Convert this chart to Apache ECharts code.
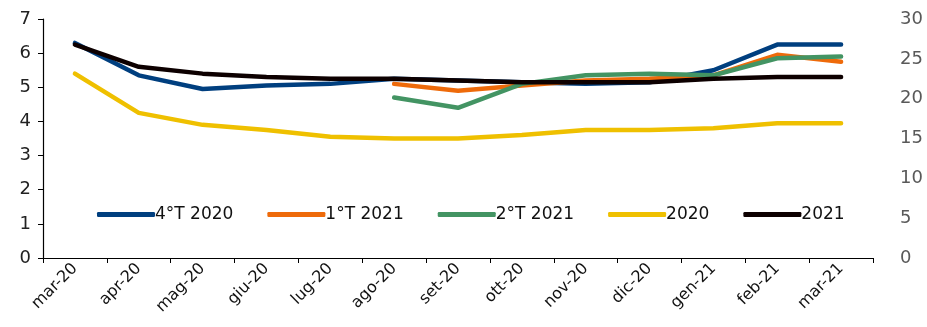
<!DOCTYPE html>
<html lang="en" style="height: 100%">
<head>
  <meta charset="utf-8">
</head>
<body style="height: 100%; margin: 0">
  <div id="container" style="width: 927px; height: 327px"></div>

  <script type="text/javascript" src="https://fastly.jsdelivr.net/npm/echarts@6/dist/echarts.min.js"></script>
  <script type="text/javascript">
    // months on the x axis
    var months = ['mar-20', 'apr-20', 'mag-20', 'giu-20', 'lug-20', 'ago-20', 'set-20',
                  'ott-20', 'nov-20', 'dic-20', 'gen-21', 'feb-21', 'mar-21'];

    // values (left axis)
    var t4_2020 = [6.3, 5.35, 4.95, 5.05, 5.1, 5.25, 5.2, 5.15, 5.1, 5.15, 5.5, 6.25, 6.25];
    var t1_2021 = [null, null, null, null, null, 5.1, 4.9, 5.05, 5.2, 5.25, 5.35, 5.95, 5.75];
    var t2_2021 = [null, null, null, null, null, 4.7, 4.4, 5.1, 5.35, 5.4, 5.35, 5.85, 5.9];
    var y2020 = [5.4, 4.25, 3.9, 3.75, 3.55, 3.5, 3.5, 3.6, 3.75, 3.75, 3.8, 3.95, 3.95];
    var y2021 = [6.25, 5.6, 5.4, 5.3, 5.25, 5.25, 5.2, 5.15, 5.15, 5.15, 5.25, 5.3, 5.3];

    var names = ['4°T 2020', '1°T 2021', '2°T 2021', '2020', '2021'];
    var colors = ['#003f7f', '#ee6a0a', '#439463', '#efc000', '#0d0000'];
    var values = [t4_2020, t1_2021, t2_2021, y2020, y2021];

    var font = '"DejaVu Sans", sans-serif';

    var myChart = echarts.init(document.getElementById('container'), null, { renderer: 'canvas' });

    var option = {
      animation: false,
      color: colors,
      grid: { left: 43, right: 54, top: 19, bottom: 69 },
      legend: {
        data: names,
        top: 201,
        left: 92,
        itemWidth: 58,
        itemHeight: 5,
        itemGap: 34,
        icon: 'roundRect',
        textStyle: { fontFamily: font, fontSize: 17, color: '#111', padding: [0, 0, 0, -5] }
      },
      xAxis: {
        type: 'category',
        data: months,
        boundaryGap: true,
        axisLine: { lineStyle: { color: '#000', width: 1.2 } },
        axisTick: { show: true, length: 5, lineStyle: { color: '#000' } },
        axisLabel: { rotate: 45, fontFamily: font, fontSize: 16, color: '#111', margin: 8 }
      },
      yAxis: [
        {
          type: 'value',
          min: 0, max: 7, interval: 1,
          splitLine: { show: false },
          axisLine: { show: true, lineStyle: { color: '#000', width: 1.2 } },
          axisTick: { show: true, length: 5, lineStyle: { color: '#000' } },
          axisLabel: { fontFamily: font, fontSize: 18, color: '#222', margin: 12 }
        },
        {
          type: 'value',
          min: 0, max: 30, interval: 5,
          splitLine: { show: false },
          axisLine: { show: false },
          axisTick: { show: false },
          axisLabel: { fontFamily: font, fontSize: 18, color: '#595959', margin: 27 }
        }
      ],
      series: names.map(function (n, i) {
        return {
          name: n,
          type: 'line',
          data: values[i],
          showSymbol: false,
          symbol: 'none',
          lineStyle: { width: 4.5, color: colors[i], cap: 'round', join: 'round' },
          itemStyle: { color: colors[i] }
        };
      })
    };

    myChart.setOption(option);
    window.addEventListener('resize', myChart.resize);
  </script>
</body>
</html>
